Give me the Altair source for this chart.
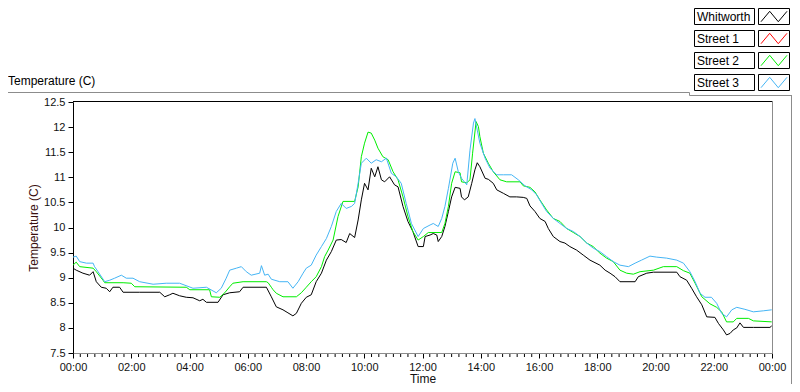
import altair as alt
import pandas as pd

# ---------------- data ----------------
SERIES = ["Whitworth", "Street 1", "Street 2", "Street 3"]
COLORS = ["#000000", "#FF0000", "#00EE00", "#45B5F5"]

X_TICKS = [0, 2, 4, 6, 8, 10, 12, 14, 16, 18, 20, 22, 24]
Y_TICKS = [7.5, 8, 8.5, 9, 9.5, 10, 10.5, 11, 11.5, 12, 12.5]
PANEL_LABEL = "Temperature (C)"
Y_TITLE = "Temperature (C)"
X_TITLE = "Time"

# (hour of day, temperature C)
WHITWORTH = [
    (0.00, 9.19), (0.11, 9.15), (0.34, 9.09), (0.57, 9.05), (0.69, 9.12), (0.80, 8.92),
    (0.97, 8.81), (1.14, 8.79), (1.26, 8.72), (1.37, 8.81), (1.60, 8.81), (1.72, 8.71),
    (2.29, 8.71), (2.98, 8.71), (3.15, 8.62), (3.32, 8.66), (3.43, 8.69), (3.66, 8.64),
    (3.89, 8.61), (4.12, 8.60), (4.35, 8.54), (4.46, 8.57), (4.58, 8.51), (4.98, 8.51),
    (5.15, 8.66), (5.38, 8.70), (5.72, 8.72), (5.84, 8.81), (6.64, 8.81), (6.81, 8.62),
    (6.98, 8.42), (7.21, 8.36), (7.38, 8.30), (7.55, 8.24), (7.67, 8.29), (7.84, 8.49),
    (8.01, 8.61), (8.18, 8.66), (8.35, 8.92), (8.53, 9.09), (8.70, 9.35), (8.87, 9.52),
    (9.04, 9.75), (9.21, 9.76), (9.38, 9.70), (9.50, 9.88), (9.67, 9.80), (9.79, 10.15),
    (9.90, 10.55), (10.01, 10.88), (10.13, 10.75), (10.24, 11.18), (10.36, 11.01),
    (10.47, 11.21), (10.59, 10.95), (10.70, 10.91), (10.87, 11.01), (11.04, 10.85),
    (11.16, 10.81), (11.33, 10.42), (11.50, 10.12), (11.67, 9.92), (11.85, 9.62),
    (12.03, 9.62), (12.09, 9.82), (12.26, 9.85), (12.37, 9.88), (12.49, 9.85),
    (12.54, 9.72), (12.66, 9.82), (12.77, 10.02), (12.89, 10.32), (13.00, 10.61),
    (13.12, 10.80), (13.29, 10.78), (13.34, 10.61), (13.44, 10.55), (13.57, 10.61),
    (13.69, 10.88), (13.80, 11.15), (13.88, 11.29), (13.97, 11.21), (14.15, 10.98),
    (14.26, 10.96), (14.43, 10.88), (14.55, 10.75), (14.78, 10.68), (15.00, 10.61),
    (15.23, 10.61), (15.46, 10.60), (15.58, 10.58), (15.69, 10.43), (15.86, 10.32),
    (16.03, 10.18), (16.21, 10.12), (16.32, 9.98), (16.49, 9.82), (16.72, 9.72),
    (16.89, 9.69), (17.06, 9.62), (17.29, 9.55), (17.52, 9.45), (17.75, 9.35),
    (18.09, 9.25), (18.27, 9.15), (18.44, 9.09), (18.61, 9.02), (18.78, 8.92),
    (19.30, 8.92), (19.41, 9.02), (19.70, 9.09), (19.93, 9.11), (20.73, 9.11),
    (20.84, 9.02), (21.07, 8.95), (21.24, 8.79), (21.41, 8.62), (21.59, 8.46),
    (21.76, 8.22), (22.04, 8.21), (22.16, 8.09), (22.33, 7.96), (22.44, 7.86),
    (22.56, 7.89), (22.67, 7.96), (22.79, 8.00), (22.90, 8.10), (23.02, 8.01),
    (23.36, 8.01), (23.93, 8.01), (23.99, 8.04),
]

STREET1 = []  # listed in the legend, no trace drawn

STREET2 = [
    (0.00, 9.25), (0.11, 9.31), (0.23, 9.22), (0.69, 9.19), (0.80, 9.12), (1.03, 8.95),
    (1.09, 8.90), (1.72, 8.90), (2.00, 8.89), (2.12, 8.82), (3.89, 8.81), (4.01, 8.76),
    (4.69, 8.76), (4.75, 8.62), (5.04, 8.61), (5.21, 8.70), (5.38, 8.82), (5.49, 8.89),
    (5.84, 8.92), (6.64, 8.92), (6.70, 8.90), (6.81, 8.81), (6.87, 8.76), (6.98, 8.69),
    (7.21, 8.62), (7.67, 8.62), (7.84, 8.70), (8.01, 8.81), (8.18, 8.92), (8.35, 9.02),
    (8.53, 9.22), (8.64, 9.42), (8.76, 9.55), (8.93, 9.75), (9.10, 10.22), (9.27, 10.52),
    (9.67, 10.52), (9.79, 10.81), (9.90, 11.41), (10.01, 11.68), (10.13, 11.90),
    (10.24, 11.88), (10.36, 11.74), (10.47, 11.58), (10.64, 11.41), (10.82, 11.35),
    (10.99, 11.11), (11.16, 10.95), (11.33, 10.61), (11.50, 10.22), (11.67, 9.92),
    (11.85, 9.75), (12.03, 9.82), (12.20, 9.90), (12.66, 9.90), (12.77, 10.08),
    (12.89, 10.42), (13.00, 10.88), (13.12, 11.11), (13.29, 11.09), (13.34, 10.91),
    (13.52, 10.89), (13.63, 10.95), (13.72, 11.48), (13.84, 12.11), (13.92, 12.01),
    (13.97, 11.81), (14.09, 11.48), (14.26, 11.28), (14.43, 11.11), (14.66, 10.95),
    (14.89, 10.91), (15.35, 10.91), (15.46, 10.83), (15.69, 10.80), (15.86, 10.71),
    (16.03, 10.55), (16.26, 10.35), (16.49, 10.18), (16.72, 10.12), (16.95, 9.98),
    (17.18, 9.90), (17.41, 9.82), (17.64, 9.69), (17.86, 9.62), (18.09, 9.49),
    (18.32, 9.39), (18.55, 9.32), (18.78, 9.15), (19.01, 9.09), (19.24, 9.07),
    (19.47, 9.12), (19.93, 9.15), (20.27, 9.22), (20.73, 9.22), (20.96, 9.14),
    (21.18, 9.09), (21.36, 8.89), (21.59, 8.62), (21.87, 8.48), (22.10, 8.41),
    (22.27, 8.32), (22.44, 8.12), (22.67, 8.12), (22.79, 8.19), (23.19, 8.19),
    (23.36, 8.14), (23.99, 8.12),
]

STREET3 = [
    (0.00, 9.41), (0.11, 9.43), (0.23, 9.32), (0.46, 9.29), (0.69, 9.29), (0.74, 9.22),
    (0.86, 9.12), (1.09, 8.92), (1.26, 8.95), (1.43, 8.99), (1.66, 9.05), (1.83, 8.99),
    (2.06, 8.99), (2.29, 8.92), (2.75, 8.87), (3.20, 8.89), (3.66, 8.89), (4.12, 8.79),
    (4.58, 8.81), (4.92, 8.70), (5.09, 8.79), (5.26, 8.99), (5.38, 9.15), (5.61, 9.19),
    (5.78, 9.22), (5.95, 9.12), (6.12, 9.05), (6.41, 9.09), (6.47, 9.24), (6.58, 9.05),
    (6.70, 9.07), (6.81, 8.97), (7.10, 8.92), (7.38, 8.92), (7.55, 8.79), (7.73, 8.92),
    (7.90, 9.09), (8.01, 9.19), (8.18, 9.25), (8.35, 9.45), (8.53, 9.62), (8.70, 9.78),
    (8.87, 10.02), (9.04, 10.32), (9.21, 10.48), (9.38, 10.38), (9.56, 10.42),
    (9.67, 10.48), (9.79, 10.88), (9.90, 11.28), (10.07, 11.38), (10.24, 11.28),
    (10.41, 11.35), (10.59, 11.31), (10.76, 11.38), (10.93, 11.08), (11.10, 11.01),
    (11.27, 10.88), (11.44, 10.48), (11.62, 10.08), (11.85, 9.82), (12.03, 9.98),
    (12.26, 10.05), (12.37, 10.08), (12.54, 10.02), (12.66, 10.18), (12.77, 10.42),
    (12.89, 10.78), (13.04, 11.28), (13.12, 11.38), (13.23, 11.11), (13.34, 10.98),
    (13.52, 10.85), (13.63, 11.54), (13.75, 12.08), (13.80, 12.17), (13.88, 11.94),
    (13.97, 11.68), (14.15, 11.38), (14.32, 11.18), (14.55, 11.05), (14.78, 11.05),
    (15.06, 11.05), (15.29, 10.95), (15.52, 10.83), (15.75, 10.75), (15.92, 10.65),
    (16.09, 10.48), (16.26, 10.32), (16.49, 10.18), (16.72, 10.08), (16.95, 9.98),
    (17.18, 9.92), (17.41, 9.82), (17.64, 9.69), (17.86, 9.59), (18.09, 9.52),
    (18.32, 9.42), (18.55, 9.32), (18.78, 9.25), (19.07, 9.22), (19.30, 9.29),
    (19.52, 9.35), (19.81, 9.43), (20.04, 9.41), (20.38, 9.39), (20.73, 9.35),
    (20.96, 9.29), (21.18, 9.12), (21.36, 8.92), (21.53, 8.69), (21.70, 8.61),
    (21.92, 8.61), (22.10, 8.49), (22.27, 8.29), (22.44, 8.22), (22.62, 8.36),
    (22.79, 8.41), (23.07, 8.37), (23.36, 8.32), (23.70, 8.34), (23.99, 8.36),
]

# ---------------- build ----------------
rows = []
for name, pts in zip(SERIES, [WHITWORTH, STREET1, STREET2, STREET3]):
    for h, v in pts:
        rows.append({"series": name, "hour": h, "temp": v})
df = pd.DataFrame(rows)

W, H = 699, 251
FONT = "Liberation Sans"
FRAME = "#8C8C8C"

x_scale = alt.Scale(domain=[0, 24], nice=False, zero=False)
y_scale = alt.Scale(domain=[7.5, 12.5], nice=False, zero=False)
color_scale = alt.Scale(domain=SERIES, range=COLORS)

x_axis = alt.Axis(
    values=X_TICKS,
    labelExpr="(datum.value % 24 < 10 ? '0' : '') + (datum.value % 24) + ':00'",
    title=X_TITLE, tickSize=5, labelPadding=3, domainColor=FRAME, tickColor="#000000",
    labelFlush=False, labelOverlap=False, labelBound=False, grid=False,
    titleY=29, titleBaseline="alphabetic",
)
y_axis = alt.Axis(
    values=Y_TICKS, format="~g", title=Y_TITLE, tickSize=5, labelPadding=3,
    domainColor="#000000", tickColor="#000000", labelFlush=False, labelOverlap=False,
    grid=False, titleX=-40, titleY=H / 2, titleAngle=270, titleAlign="center",
    titleBaseline="middle", titleColor="#3A1010",
)

layers = []
for name in SERIES:
    sub = df[df["series"] == name]
    if sub.empty:
        continue
    layers.append(
        alt.Chart(sub).mark_line(strokeWidth=1, clip=True).encode(
            x=alt.X("hour:Q", scale=x_scale, axis=x_axis),
            y=alt.Y("temp:Q", scale=y_scale, axis=y_axis),
            color=alt.Color("series:N", scale=color_scale, legend=None),
        )
    )

# minor ticks on the time axis (every 15 minutes)
MINOR = [k / 4 for k in range(97) if k % 8]
layers.append(
    alt.Chart(pd.DataFrame({"hour": MINOR})).mark_rule(color="#000000", strokeWidth=1).encode(
        x=alt.X("hour:Q", scale=x_scale, axis=x_axis),
        y=alt.value(H + 1), y2=alt.value(H + 4),
    )
)

one = pd.DataFrame({"k": [0]})


def hline(x1, x2, y, color):
    return alt.Chart(one).mark_rule(color=color, strokeWidth=1).encode(
        x=alt.value(x1), x2=alt.value(x2), y=alt.value(y))


def vline(x, y1, y2, color):
    return alt.Chart(one).mark_rule(color=color, strokeWidth=1).encode(
        x=alt.value(x), y=alt.value(y1), y2=alt.value(y2))


# plot frame: top black, right grey; outer panel frame grey
layers.append(hline(0, W + 0.5, -0.5, "#000000"))
layers.append(vline(W + 0.5, -0.5, H, FRAME))
layers.append(hline(-65, 616.5, -9.5, FRAME))
layers.append(vline(616.5, -9.5, -6.5, FRAME))
layers.append(hline(616.5, 719, -6.5, FRAME))
layers.append(vline(718.5, -6.5, 290, FRAME))

# panel label at top-left
layers.append(
    alt.Chart(one).mark_text(align="left", baseline="alphabetic", font=FONT, fontSize=12,
                             color="#000000").encode(
        x=alt.value(-65), y=alt.value(-17), text=alt.value(PANEL_LABEL))
)

# custom legend: name box + sample box with a zigzag line
ZIGZAG = "M-1,0.4L-0.33,-0.4L0.33,0.4L1,-0.4"
for i, (name, color) in enumerate(zip(SERIES, COLORS)):
    top = -93.5 + 22 * i
    bot = top + 16
    layers.append(alt.Chart(one).mark_rect(fill="#FFFFFF", stroke="#000000", strokeWidth=1).encode(
        x=alt.value(621.5), x2=alt.value(681.5), y=alt.value(top), y2=alt.value(bot)))
    layers.append(alt.Chart(one).mark_rect(fill="#FFFFFF", stroke="#000000", strokeWidth=1).encode(
        x=alt.value(685.5), x2=alt.value(716.5), y=alt.value(top), y2=alt.value(bot)))
    layers.append(alt.Chart(one).mark_text(align="left", baseline="alphabetic", font=FONT,
                                           fontSize=12, color="#000000").encode(
        x=alt.value(624), y=alt.value(top + 12.5), text=alt.value(name)))
    layers.append(alt.Chart(one).mark_point(shape=ZIGZAG, size=676, filled=False, stroke=color,
                                            strokeWidth=1, opacity=1).encode(
        x=alt.value(701), y=alt.value(top + 8)))

chart = (
    alt.layer(*layers)
    .properties(
        width=W, height=H,
        autosize=alt.AutoSizeParams(type="none"),
        padding={"left": 65, "top": 94, "right": 20, "bottom": 31},
    )
    .configure_view(stroke="transparent")
    .configure_axis(labelFont=FONT, titleFont=FONT, labelFontSize=11, titleFontSize=12,
                    labelColor="#111111", titleColor="#111111", titleFontWeight="normal")
)

chart.save("out.html", embed_options={"renderer": "svg", "actions": False})
